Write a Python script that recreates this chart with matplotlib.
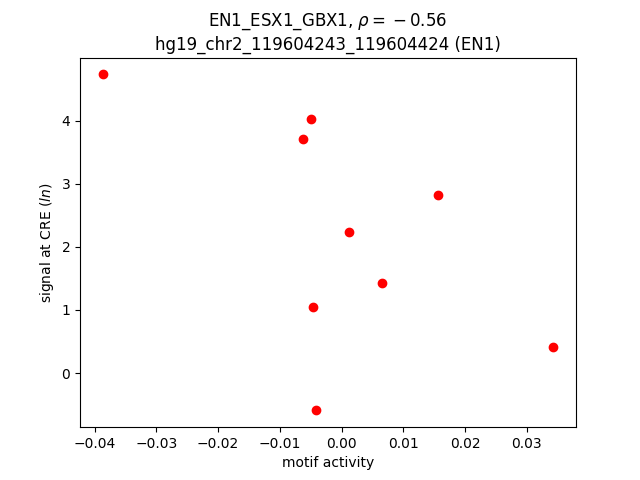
import matplotlib
matplotlib.use("Agg")
import matplotlib.pyplot as plt

# motif activity vs signal at CRE
motif_activity = [-0.0387, -0.0050, -0.0062, 0.0156, 0.0012, 0.0066, -0.0046, 0.0343, -0.0041]
signal = [4.73, 4.03, 3.70, 2.82, 2.24, 1.42, 1.04, 0.42, -0.59]

fig = plt.figure(figsize=(6.4, 4.8), dpi=100)
plt.plot(motif_activity, signal, 'o', color='red')
plt.title("EN1_ESX1_GBX1, $\\rho = {} - 0.56$\nhg19_chr2_119604243_119604424 (EN1)")
plt.xlabel("motif activity")
plt.ylabel("signal at CRE ($ln$)")
plt.savefig("out.png")
